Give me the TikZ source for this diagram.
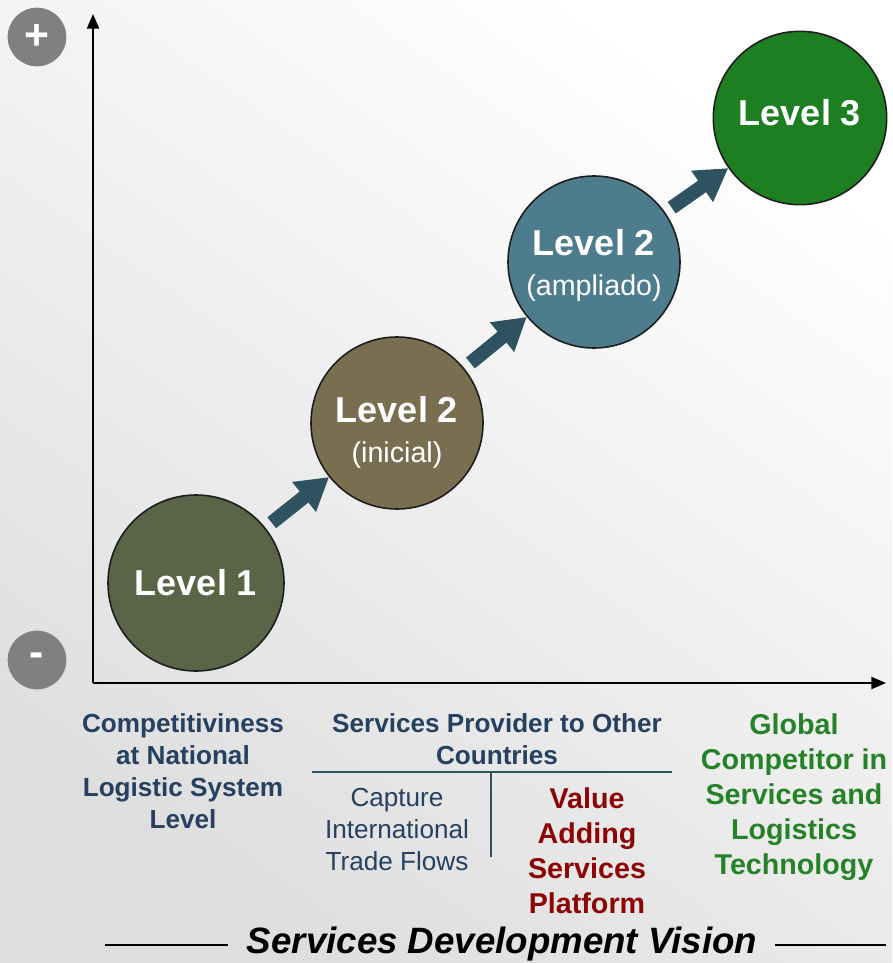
\documentclass[tikz,border=0pt]{standalone}
\usepackage{fontspec}
\setmainfont{Liberation Sans}
\usetikzlibrary{arrows.meta}

\definecolor{navytext}{RGB}{37,64,97}
\definecolor{redtext}{RGB}{140,4,4}
\definecolor{greentext}{RGB}{38,130,40}
\definecolor{lvlone}{RGB}{90,100,71}
\definecolor{lvltwoi}{RGB}{122,110,81}
\definecolor{lvltwoa}{RGB}{77,124,141}
\definecolor{lvlthree}{RGB}{30,126,34}
\definecolor{arrowteal}{RGB}{47,82,96}
\definecolor{signgray}{RGB}{128,128,128}
\definecolor{bglow}{RGB}{222,222,222}

\newcommand{\fsz}[2]{\fontsize{#1}{#2}\selectfont}

\tikzset{
  lvl/.style={circle, draw={rgb,255:red,30;green,30;blue,30}, line width=1.2pt,
    minimum size=#1, inner sep=0pt, text=white, align=center,
    font=\fsz{27}{30}},
  lvlarrow/.style={arrowteal, line width=10.5pt,
    -{Triangle[length=24pt,width=27pt]}, shorten <=6pt},
  axis/.style={black, line width=1.6pt, -{Triangle[length=11pt,width=9pt]}},
  sign/.style={circle, fill=signgray, minimum size=44pt, inner sep=0pt,
    text=white, font=\bfseries\fsz{32}{32}},
  caption/.style={align=center, font=\bfseries\fsz{19.6}{24}, text=navytext},
  divider/.style={arrowteal, line width=2.2pt}
}

\begin{document}
\begin{tikzpicture}[x=0.75pt, y=-0.75pt]
\useasboundingbox (0,0) rectangle (892,963);
\shade[shading=axis, top color=white, bottom color=bglow, shading angle=-35]
  (0,0) rectangle (892,963);

% axes
\coordinate (origin) at (93,683);
\coordinate (ytop) at (93,14);
\coordinate (xend) at (886,683);
\draw[axis] (origin) -- (ytop);
\draw[axis] (origin) -- (xend);
\node[sign] (plus) at (37,37) {+};
\node[sign] (minus) at (37,660) {-};

% levels
\node[lvl=132pt, fill=lvlone] (l1) at (196,583) {\bfseries Level 1};
\node[lvl=129pt, fill=lvltwoi, text height=64pt] (l2i) at (397,423)
  {\bfseries Level 2\\\fsz{21.5}{26}(inicial)};
\node[lvl=129pt, fill=lvltwoa, text height=55pt] (l2a) at (594,262)
  {\bfseries Level 2\\\fsz{21.5}{26}(ampliado)};
\node[lvl=130pt, fill=lvlthree, text depth=8pt] (l3) at (800,118) {\bfseries Level 3};

\draw[lvlarrow] (l1) -- (l2i);
\draw[lvlarrow] (l2i) -- (l2a);
\draw[lvlarrow] (l2a) -- (l3);

% captions under the x axis
\node[caption] (natl) at (183,771) {Competitiviness\\at National\\Logistic System\\Level};
\node[caption] (prov) at (497,739) {Services Provider to Other\\Countries};
\node[caption, font=\fsz{19.6}{24}] (capt) at (397,829) {Capture\\International\\Trade Flows};
\node[caption, font=\bfseries\fsz{21.5}{26.2}, text=redtext] (vasp) at (587,851)
  {Value\\Adding\\Services\\Platform};
\node[caption, font=\bfseries\fsz{21.5}{26.2}, text=greentext] (glob) at (794,797)
  {Global\\Competitor in\\Services and\\Logistics\\Technology};
\draw[divider] (312,772) -- (672,772);
\draw[divider] (491,773) -- (491,857);

\node[font=\bfseries\itshape\fsz{27.5}{30}] (vision) at (502,944) {Services Development Vision};
\draw[black, line width=1.8pt] (105,945) -- (228,945);
\draw[black, line width=1.8pt] (775,945) -- (886,945);

\end{tikzpicture}
\end{document}
